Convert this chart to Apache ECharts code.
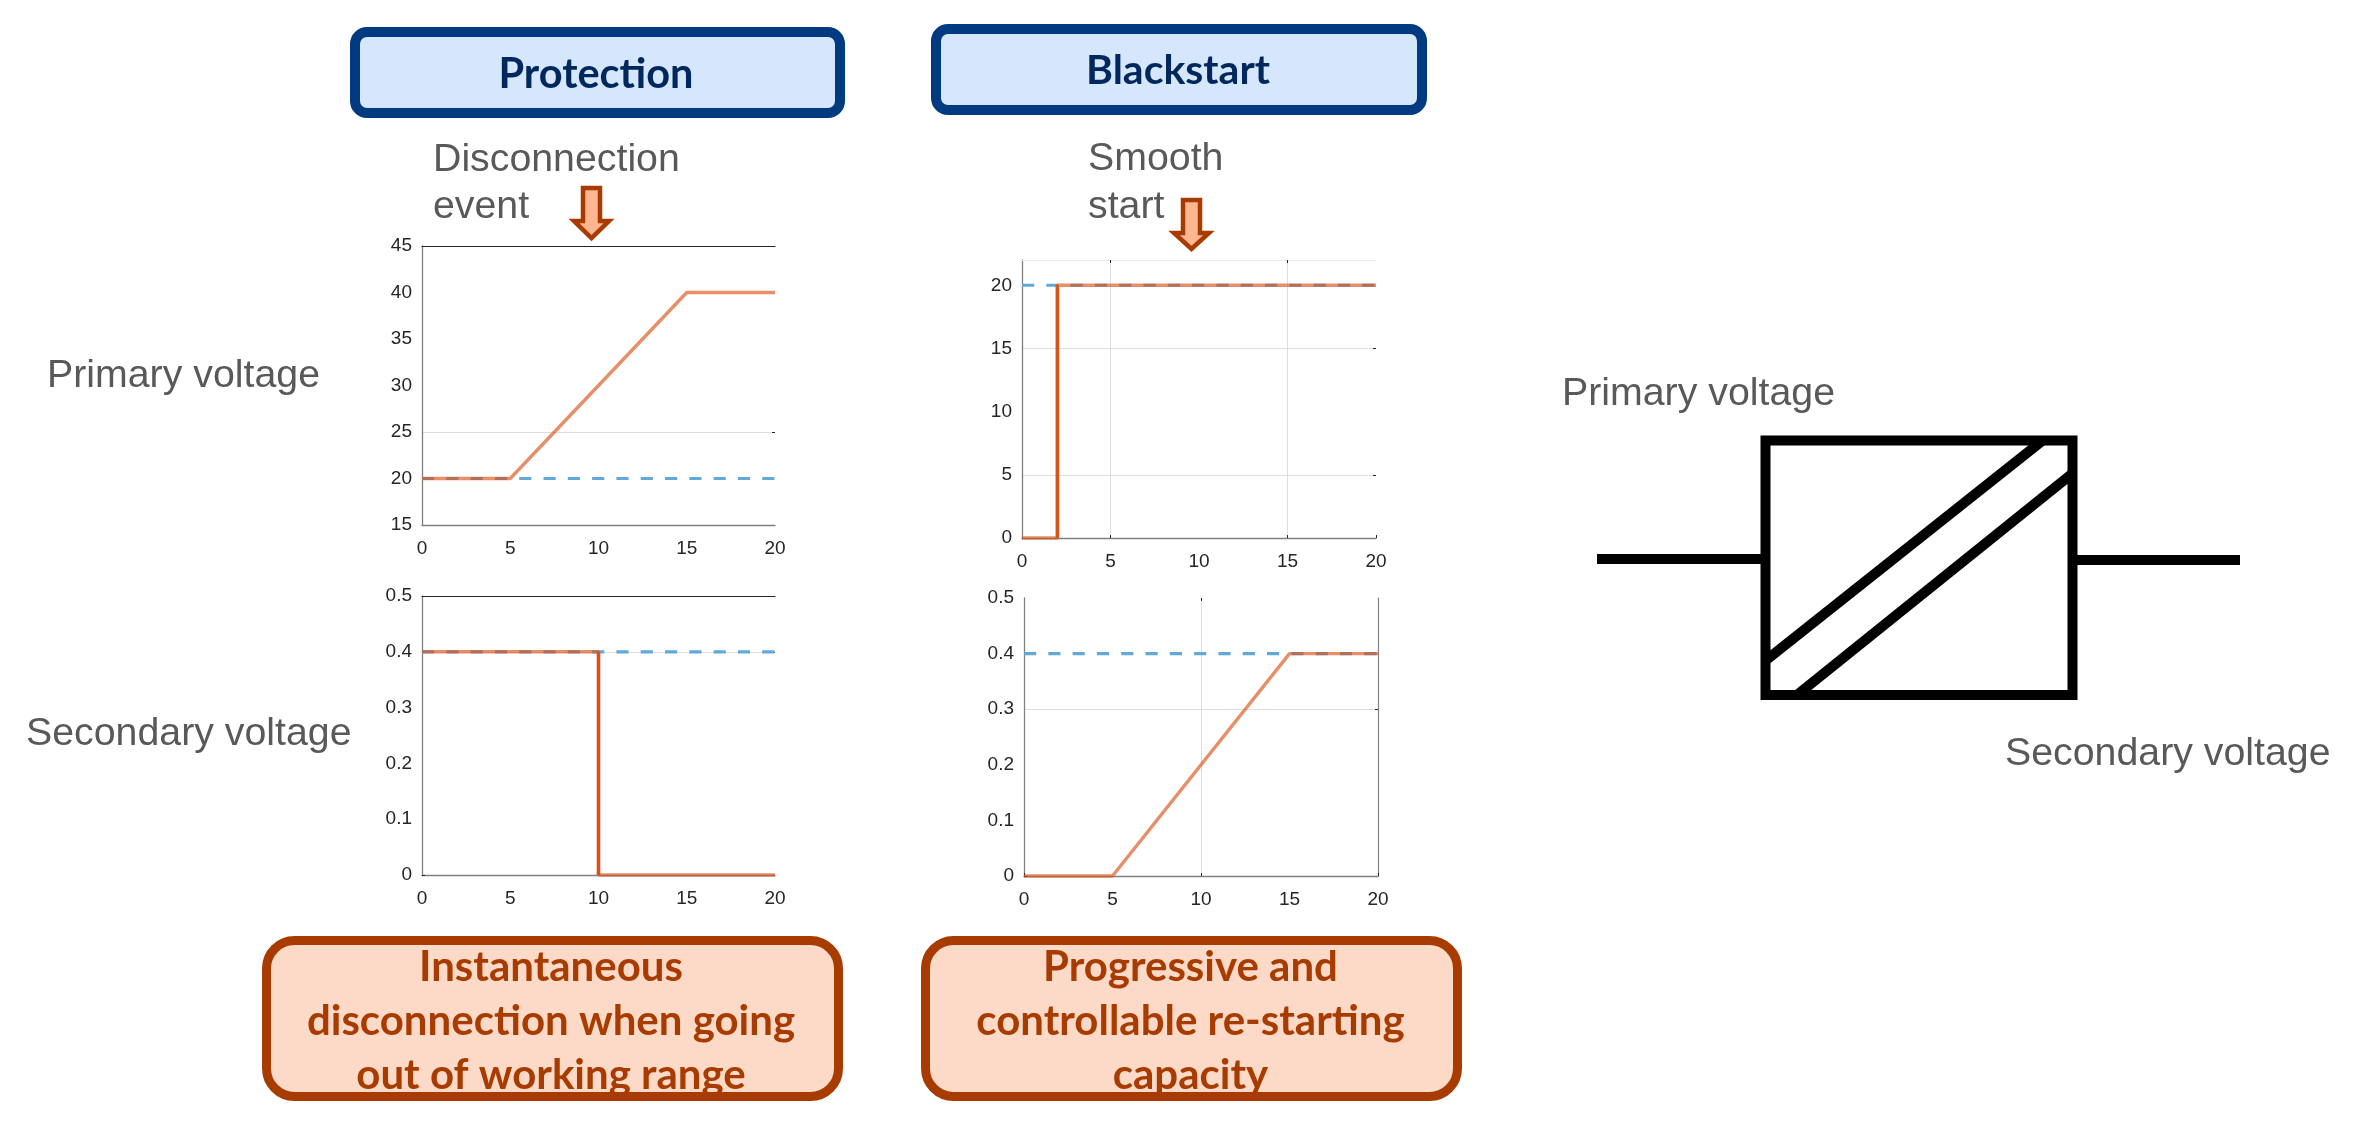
<!DOCTYPE html>
<html>
<head>
<meta charset="utf-8">
<style>html,body{margin:0;padding:0;background:#fff}#c{width:2357px;height:1126px}</style>
<script src="https://cdn.jsdelivr.net/npm/echarts@6/dist/echarts.min.js"></script>
</head>
<body>
<div id="c"></div>
<script>
// ---- values ----
const xTickLabels = [0, 5, 10, 15, 20];
const primaryProtectionTicks = [15, 20, 25, 30, 35, 40, 45];
const secondaryTicks = [0, 0.1, 0.2, 0.3, 0.4, 0.5];
const primaryBlackstartTicks = [0, 5, 10, 15, 20];

const protPrimaryNominal = [[0, 20], [20, 20]];
const protPrimaryActual = [[0, 20], [5, 20], [15, 40], [20, 40]];
const protSecondaryNominal = [[0, 0.4], [20, 0.4]];
const protSecondaryActual = [[0, 0.4], [10, 0.4], [10, 0], [20, 0]];
const protSecondaryDrop = [[10, 0.4], [10, 0]];
const blackPrimaryNominal = [[0, 20], [20, 20]];
const blackPrimaryActual = [[0, 0], [2, 0], [2, 20], [20, 20]];
const blackPrimaryRise = [[2, 0], [2, 20]];
const blackSecondaryNominal = [[0, 0.4], [20, 0.4]];
const blackSecondaryActual = [[0, 0], [5, 0], [15, 0.4], [20, 0.4]];

// ---- panel layout and styles ----
const panels = [
  {box: [422, 246, 353, 279], y: [15, 45], yLabels: primaryProtectionTicks, nominal: protPrimaryNominal, actual: protPrimaryActual,
   gridX: [], gridY: [25], tickX: [], tickY: [], top: '#262626', right: null},
  {box: [422, 596, 353, 279], y: [0, 0.5], yLabels: secondaryTicks, nominal: protSecondaryNominal, actual: protSecondaryActual, solid: protSecondaryDrop,
   gridX: [], gridY: [0.4], tickX: [], tickY: [0], top: '#262626', right: null},
  {box: [1022, 260, 354, 278], y: [0, 22], yLabels: primaryBlackstartTicks, nominal: blackPrimaryNominal, actual: blackPrimaryActual, solid: blackPrimaryRise,
   gridX: [5, 15], gridY: [5, 15], tickX: [5, 15, 20], tickY: [20], top: '#ececec', right: null},
  {box: [1024, 598, 354, 278], y: [0, 0.5], yLabels: secondaryTicks, nominal: blackSecondaryNominal, actual: blackSecondaryActual,
   gridX: [10], gridY: [0.3], tickX: [0, 10, 20], tickY: [0], top: null, right: '#808080'}
];
const AX = '#808080', TICK = '#262626', GRID = '#dedede', TXT = '#262626';
const BLUE = '#62A8D8', ORANGE = '#D95319';

const grids = [], xAxes = [], yAxes = [], series = [];
panels.forEach((p, i) => {
  grids.push({left: p.box[0], top: p.box[1], width: p.box[2], height: p.box[3], containLabel: false});
  const ax = {min: 0, max: 20, gridIndex: i, type: 'value'};
  const ay = {min: p.y[0], max: p.y[1], gridIndex: i, type: 'value'};
  const lbl = {color: TXT, fontFamily: 'Liberation Sans', fontSize: 19};
  const tickStyle = {inside: true, length: 3, lineStyle: {color: TICK, width: 1}};
  xAxes.push(Object.assign({}, ax, {position: 'bottom',
    axisLine: {show: true, onZero: false, lineStyle: {color: AX, width: 1.3}},
    axisTick: Object.assign({show: p.tickX.length > 0, customValues: p.tickX}, tickStyle),
    axisLabel: Object.assign({show: true, margin: 14, customValues: xTickLabels}, lbl),
    splitLine: {show: false}}));
  xAxes.push(Object.assign({}, ax, {position: 'top',
    axisLine: {show: !!p.top, onZero: false, lineStyle: {color: p.top || AX, width: 1.2}},
    axisTick: Object.assign({show: p.gridX.length > 0, customValues: p.gridX}, tickStyle),
    axisLabel: {show: false},
    splitLine: {show: p.gridX.length > 0, lineStyle: {color: GRID, width: 1}}}));
  yAxes.push(Object.assign({}, ay, {position: 'left',
    axisLine: {show: true, onZero: false, lineStyle: {color: AX, width: 1.3}},
    axisTick: Object.assign({show: p.tickY.length > 0, customValues: p.tickY}, tickStyle),
    axisLabel: Object.assign({show: true, margin: 10, customValues: p.yLabels}, lbl),
    splitLine: {show: false}}));
  yAxes.push(Object.assign({}, ay, {position: 'right',
    axisLine: {show: !!p.right, onZero: false, lineStyle: {color: p.right || AX, width: 1.2}},
    axisTick: Object.assign({show: true, customValues: p.gridY}, tickStyle),
    axisLabel: {show: false},
    splitLine: {show: true, lineStyle: {color: GRID, width: 1}}}));
  const base = {type: 'line', xAxisIndex: i * 2, yAxisIndex: i * 2, showSymbol: false, symbol: 'none', clip: false, silent: true, animation: false, z: 5};
  series.push(Object.assign({}, base, {data: p.nominal, lineStyle: {color: BLUE, width: 3.2, type: [12.2, 12.1], cap: 'butt'}}));
  series.push(Object.assign({}, base, {data: p.actual, lineStyle: {color: ORANGE, width: 3.4, opacity: 0.65}}));
  if (p.solid) series.push(Object.assign({}, base, {data: p.solid, lineStyle: {color: ORANGE, width: 3.4, opacity: 1}}));
});

// ---- surrounding drawing ----
const GREY = '#595959', GREYFONT = '39.3px "Liberation Sans"';
const NAVY = '#003A80', NAVYFILL = '#D5E6FD', NAVYTXT = '#00285C';
const RUST = '#A83C00', RUSTFILL = '#FDD9C7', ARROWFILL = '#FDB690';
const g = [];
const text = (t, x, y, font, fill, align) => g.push({type: 'text', silent: true, style: {text: t, x, y, font, fill, textAlign: align || 'left', textVerticalAlign: 'bottom'}});
const rrect = (x, y, w, h, r, fill, stroke, lw) => g.push({type: 'rect', silent: true, shape: {x, y, width: w, height: h, r}, style: {fill, stroke, lineWidth: lw}});
const seg = (x1, y1, x2, y2, lw) => g.push({type: 'line', silent: true, shape: {x1, y1, x2, y2}, style: {stroke: '#000', lineWidth: lw}});
const arrow = (l, r, hl, hr, top, neck, tip) => g.push({type: 'polygon', silent: true,
  shape: {points: [[l, top], [r, top], [r, neck], [hr, neck], [(hl + hr) / 2, tip], [hl, neck], [l, neck]]},
  style: {fill: ARROWFILL, stroke: RUST, lineWidth: 4.5, lineJoin: 'miter'}});

// headers
rrect(355, 32, 485, 81, 12, NAVYFILL, NAVY, 10);
rrect(936, 29, 486, 81, 12, NAVYFILL, NAVY, 10);
text('Protection', 596, 96, 'bold 41.5px Lato', NAVYTXT, 'center');
text('Blackstart', 1178, 91, 'bold 41px Lato', NAVYTXT, 'center');

// annotations
text('Disconnection', 433, 180, GREYFONT, GREY);
text('event', 433, 227, GREYFONT, GREY);
text('Smooth', 1088, 179, GREYFONT, GREY);
text('start', 1088, 227, GREYFONT, GREY);
text('Primary voltage', 47, 396, GREYFONT, GREY);
text('Secondary voltage', 26, 754, GREYFONT, GREY);
text('Primary voltage', 1562, 414, GREYFONT, GREY);
text('Secondary voltage', 2005, 774, GREYFONT, GREY);
arrow(583, 600, 574, 609, 188, 221, 238);
arrow(1183, 1200, 1174, 1209, 200, 233, 249);

// bottom boxes: fill, then text, then the border over the text
rrect(266.5, 940.5, 572, 156, 28, RUSTFILL, null, 0);
rrect(925.5, 940.5, 532, 156, 28, RUSTFILL, null, 0);
[['Instantaneous', 988], ['disconnection when going', 1042], ['out of working range', 1096]].forEach(l => text(l[0], 551, l[1], 'bold 42px Lato', RUST, 'center'));
[['Progressive and', 988], ['controllable re-starting', 1042], ['capacity', 1096]].forEach(l => text(l[0], 1190.5, l[1], 'bold 42px Lato', RUST, 'center'));
rrect(266.5, 940.5, 572, 156, 28, 'rgba(0,0,0,0)', RUST, 9);
rrect(925.5, 940.5, 532, 156, 28, 'rgba(0,0,0,0)', RUST, 9);

// converter symbol
seg(1597, 559, 1761, 559, 10);
seg(2077, 560, 2240, 560, 10);
seg(1765, 661, 2042, 441, 10);
seg(1797, 695, 2073, 473, 10);
rrect(1765.5, 440.5, 307, 254.5, 0, 'rgba(0,0,0,0)', '#000', 10);

const chart = echarts.init(document.getElementById('c'), null, {renderer: 'canvas', width: 2357, height: 1126});
chart.setOption({
  animation: false, backgroundColor: '#ffffff',
  grid: grids, xAxis: xAxes, yAxis: yAxes, series, graphic: {elements: g}
});
</script>
</body>
</html>
